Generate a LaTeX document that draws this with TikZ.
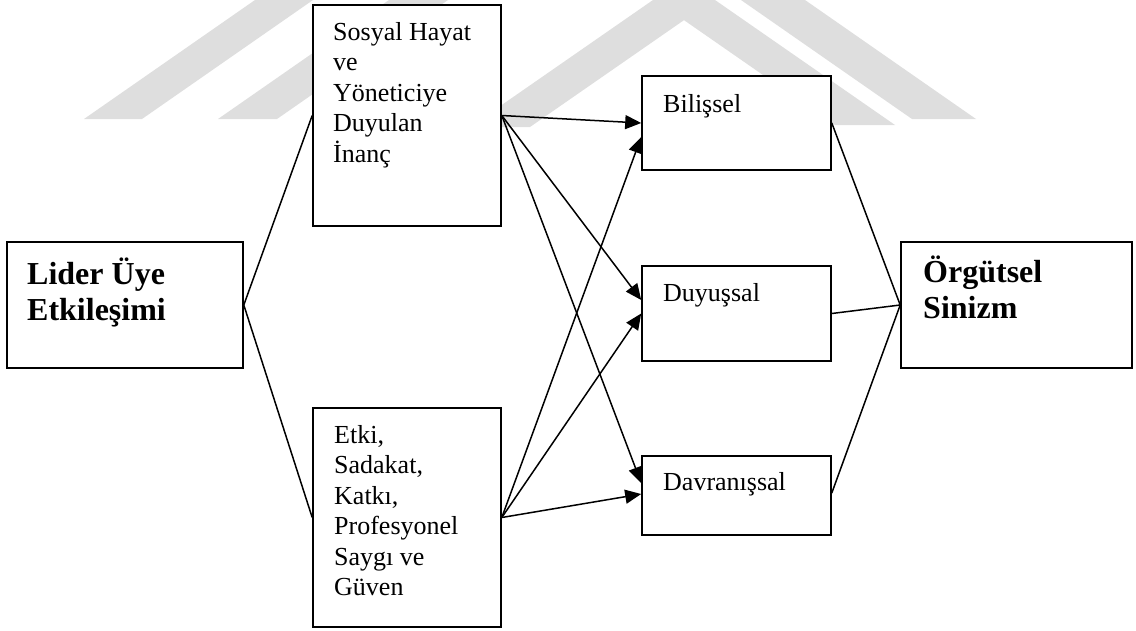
\documentclass[tikz,border=0pt]{standalone}
\usepackage{fontspec}
\setmainfont{Liberation Serif}
\usetikzlibrary{arrows.meta,calc}
\definecolor{wm}{RGB}{222,222,222}
\tikzset{
  box/.style={draw=black, line width=1.6pt, inner sep=0pt, fill=white},
  boxtext/.style={anchor=base west, inner sep=0pt,
    font=\fontsize{26}{30.5}\selectfont},
  headtext/.style={anchor=base west, inner sep=0pt,
    font=\fontsize{32}{36.5}\selectfont\bfseries},
  link/.style={line width=1.5pt},
  arrowlink/.style={line width=1.5pt, -{Triangle[length=16pt,width=14pt]}},
  stripe/.style={fill=wm, draw=none}
}
\begin{document}
\begin{tikzpicture}[x=1pt, y=-1pt]
\useasboundingbox (0,0) rectangle (1136,630);
% background stripes
\fill[stripe] (84,119) -- (142,119) -- (313,0) -- (255,0) -- cycle;
\fill[stripe] (218,119) -- (277,119) -- (448,0) -- (389,0) -- cycle;
\fill[stripe] (470,127) -- (530,127) -- (713,0) -- (653,0) -- cycle;
\fill[stripe] (835,125) -- (895,125) -- (715,0) -- (655,0) -- cycle;
\fill[stripe] (912,119) -- (976,119) -- (805,0) -- (741,0) -- cycle;

% boxes
\node[box, minimum width=236pt, minimum height=126pt] (lider) at (125,305) {};
\node[box, minimum width=188pt, minimum height=221pt] (sosyal) at (407,115.5) {};
\node[box, minimum width=188pt, minimum height=219pt] (etki) at (407,517.5) {};
\node[box, minimum width=189pt, minimum height=94pt] (bilissel) at (736.5,123) {};
\node[box, minimum width=189pt, minimum height=95pt] (duyussal) at (736.5,313.5) {};
\node[box, minimum width=189pt, minimum height=79pt] (davranissal) at (736.5,495.5) {};
\node[box, minimum width=231pt, minimum height=126pt] (sinizm) at (1016.5,305) {};

% texts (each \vtop keeps its first baseline on the node's base)
\node[headtext] (liderT) at (27,284) {\vtop{\hbox{Lider Üye}\hbox{Etkileşimi}}};
\node[headtext] (sinizmT) at (923,282) {\vtop{\hbox{Örgütsel}\hbox{Sinizm}}};
\node[boxtext] (sosyalT) at (333,40) {\vtop{\hbox{Sosyal Hayat}\hbox{ve}\hbox{Yöneticiye}\hbox{Duyulan}\hbox{İnanç}}};
\node[boxtext] (etkiT) at (334,443) {\vtop{\hbox{Etki,}\hbox{Sadakat,}\hbox{Katkı,}\hbox{Profesyonel}\hbox{Saygı ve}\hbox{Güven}}};
\node[boxtext] (bilisselT) at (663,112) {Bilişsel};
\node[boxtext] (duyussalT) at (663,301) {Duyuşsal};
\node[boxtext] (davranissalT) at (663,490) {Davranışsal};

% links from the leader-member exchange box
\draw[link] (lider.east) -- (sosyal.west);
\draw[link] (lider.east) -- (etki.west);

% arrows to the three dimensions
\draw[arrowlink] (sosyal.east) -- (bilissel.west);
\draw[arrowlink] (sosyal.east) -- ($(duyussal.west)+(0,-13.5)$);
\draw[arrowlink] (sosyal.east) -- ($(davranissal.west)+(0,-12.5)$);
\draw[arrowlink] (etki.east) -- ($(bilissel.west)+(0,14)$);
\draw[arrowlink] (etki.east) -- (duyussal.west);
\draw[arrowlink] (etki.east) -- ($(davranissal.west)+(0,-1.5)$);

% links into organisational cynicism
\draw[link] (bilissel.east) -- (sinizm.west);
\draw[link] (duyussal.east) -- (sinizm.west);
\draw[link] ($(davranissal.east)+(0,-2.5)$) -- (sinizm.west);
\end{tikzpicture}
\end{document}
